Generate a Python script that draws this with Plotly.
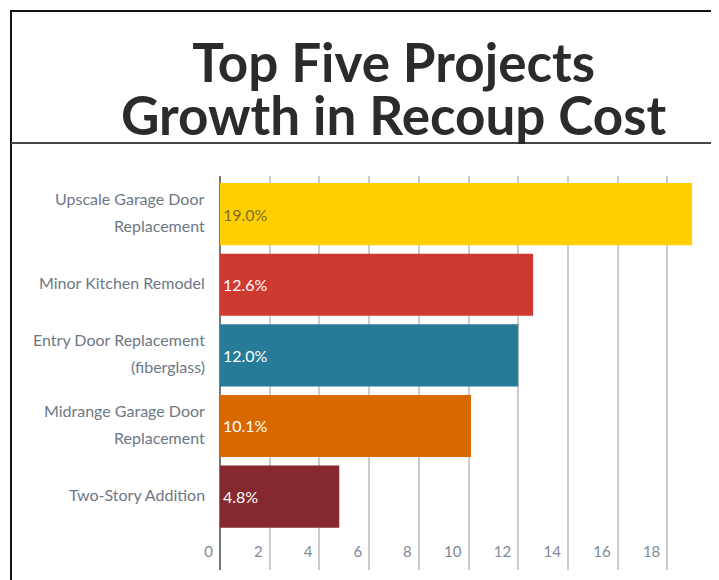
"""Horizontal bar chart: top five projects by growth in recoup cost."""
import plotly.graph_objects as go

PROJECTS = [
    "Upscale Garage Door<br>Replacement",
    "Minor Kitchen Remodel",
    "Entry Door Replacement<br>(fiberglass)",
    "Midrange Garage Door<br>Replacement",
    "Two-Story Addition",
]
GROWTH = [19.0, 12.6, 12.0, 10.1, 4.8]
BAR_COLORS = ["#FFD000", "#CF3A30", "#267B98", "#D96800", "#85292E"]
TEXT_COLORS = ["#7d6e34", "white", "white", "white", "white"]
X_TICKS = [0, 2, 4, 6, 8, 10, 12, 14, 16, 18]
TITLE_LINES = ["Top Five Projects", "Growth in Recoup Cost"]

# page body adds an 8px offset, so the figure is drawn 8px smaller
OFF = 8
W, H = 719 - OFF, 580 - OFF
L, R, T, B = 220 - OFF, 2, 176 - OFF, 18 - OFF
PW, PH = W - L - R, H - T - B


def px_x(p):
    # screen pixel -> paper x
    return (p - OFF - L) / PW


def px_y(q):
    # screen pixel -> paper y
    return (H - B - (q - OFF)) / PH


fig = go.Figure(go.Bar(
    x=GROWTH, y=list(range(len(GROWTH))), orientation="h",
    width=0.88,
    marker=dict(color=BAR_COLORS, line=dict(width=0)),
    text=[f"{v:.1f}%" for v in GROWTH],
    textposition="inside", insidetextanchor="start",
    textfont=dict(family="Lato", size=16, color=TEXT_COLORS),
    hoverinfo="skip",
))

# category labels, one annotation per line for the wide line spacing
annotations = []
for i, name in enumerate(PROJECTS):
    lines = name.split("<br>")
    n = len(lines)
    for j, line in enumerate(lines):
        annotations.append(dict(
            x=0, y=i, xref="x", yref="y", text=line, showarrow=False,
            xanchor="right", yanchor="middle", xshift=-13,
            yshift=2 + (n - 1) * 13.5 - j * 27,
            font=dict(family="Lato", size=16, color="#6e7785"),
        ))

# title: small base font sets the tight line spacing, spans set the glyph size
title_text = "<br>".join(
    f"<span style='font-size:53px'><b>{line}</b></span>" for line in TITLE_LINES
)
annotations.append(dict(
    x=px_x(394), y=px_y(88), xref="paper", yref="paper",
    text=title_text, showarrow=False,
    xanchor="center", yanchor="middle",
    font=dict(family="Lato", size=41, color="#2b2b2b"),
))

shapes = [
    # outer frame
    dict(type="line", xref="paper", yref="paper",
         x0=px_x(11), x1=px_x(11), y0=px_y(10), y1=px_y(590),
         line=dict(color="#111", width=2)),
    dict(type="line", xref="paper", yref="paper",
         x0=px_x(10), x1=px_x(730), y0=px_y(11), y1=px_y(11),
         line=dict(color="#111", width=2)),
    # separator under title
    dict(type="line", xref="paper", yref="paper",
         x0=px_x(11), x1=px_x(730), y0=px_y(143), y1=px_y(143),
         line=dict(color="#444", width=2)),
]

fig.update_layout(
    width=W, height=H,
    margin=dict(l=L, r=R, t=T, b=B),
    paper_bgcolor="white", plot_bgcolor="white",
    showlegend=False,
    annotations=annotations,
    shapes=shapes,
    xaxis=dict(
        range=[0, 20.0], tickvals=X_TICKS,
        showgrid=True, gridcolor="#cccccc", gridwidth=2,
        zeroline=True, zerolinecolor="#777777", zerolinewidth=2,
        ticklabelposition="inside left", ticklabelshift=-7,
        ticklabelstandoff=4, ticklabeloverflow="allow",
        tickfont=dict(family="Lato", size=15, color="#7f8a99"),
        showline=False, fixedrange=True,
    ),
    yaxis=dict(
        range=[5.04, -0.54], showticklabels=False, showgrid=False,
        zeroline=False, showline=False, fixedrange=True,
    ),
)

fig.write_html("out.html")
